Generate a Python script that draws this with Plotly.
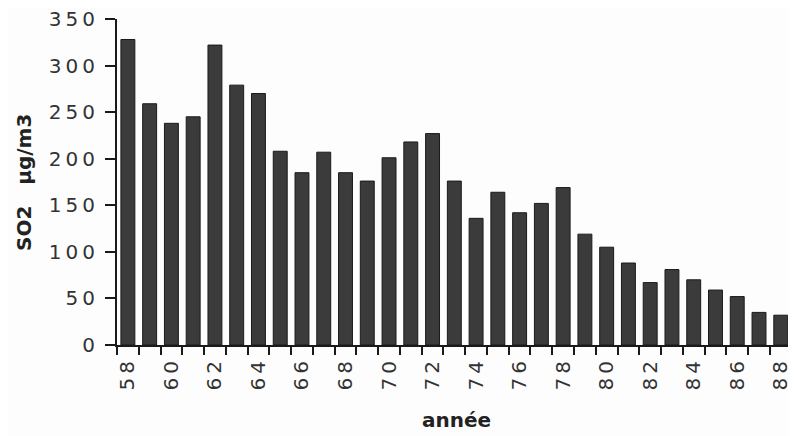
import plotly.graph_objects as go

years = list(range(1958, 1989))
so2 = [328, 259, 238, 245, 322, 279, 270, 208, 185, 207, 185, 176, 201, 218,
       227, 176, 136, 164, 142, 152, 169, 119, 105, 88, 67, 81, 70, 59, 52, 35, 32]
y_ticks = [0, 50, 100, 150, 200, 250, 300, 350]
x_label_years = list(range(1958, 1989, 2))

TS = "\u2009"  # thin space, to mimic the wide letter spacing of the original


def spaced(s):
    return TS.join(list(str(s)))


fig = go.Figure()
fig.add_trace(go.Bar(
    x=years, y=so2, width=0.64,
    marker=dict(color="#3b3b3b", line=dict(color="#1a1a1a", width=1)),
    showlegend=False,
))

# the page body has an 8px margin, so the figure is sized to fit the window
fig.update_layout(
    width=788, height=428,
    margin=dict(l=109, r=0, t=11, b=91),
    paper_bgcolor="#fdfdfd", plot_bgcolor="#fdfdfd",
    font=dict(family="DejaVu Sans", color="#222", size=18),
)

fig.update_xaxes(
    range=[1957.5, 1988.7],
    tickvals=x_label_years,
    ticktext=[spaced(y % 100) for y in x_label_years],
    tickangle=-90,
    ticks="",
    ticklabelstandoff=6,
    ticklabeloverflow="allow",
    tickfont=dict(family="DejaVu Sans", size=20, color="#333"),
    showline=True, linecolor="#1a1a1a", linewidth=2,
    showgrid=False, zeroline=False, automargin=False,
    minor=dict(ticks="outside", tick0=1957.5, dtick=1, ticklen=8,
               tickwidth=2, tickcolor="#1a1a1a", showgrid=False),
    title=dict(text="<b>année</b>", standoff=24,
               font=dict(family="DejaVu Sans", size=20, color="#222")),
)

fig.update_yaxes(
    range=[0, 350],
    tickvals=y_ticks,
    ticktext=[spaced(v) for v in y_ticks],
    ticks="outside", ticklen=10, tickwidth=2, tickcolor="#1a1a1a",
    ticklabelstandoff=6,
    ticklabeloverflow="allow",
    tickfont=dict(family="DejaVu Sans", size=20, color="#333"),
    showline=True, linecolor="#1a1a1a", linewidth=2,
    showgrid=False, zeroline=False, automargin=False,
)

fig.add_annotation(
    text="<b>SO2   µg/m3</b>",
    xref="paper", yref="paper",
    x=-0.137, y=0.5, xanchor="center", yanchor="middle",
    textangle=-90, showarrow=False,
    font=dict(family="DejaVu Sans", size=20, color="#222"),
)

fig.write_html("out.html")
